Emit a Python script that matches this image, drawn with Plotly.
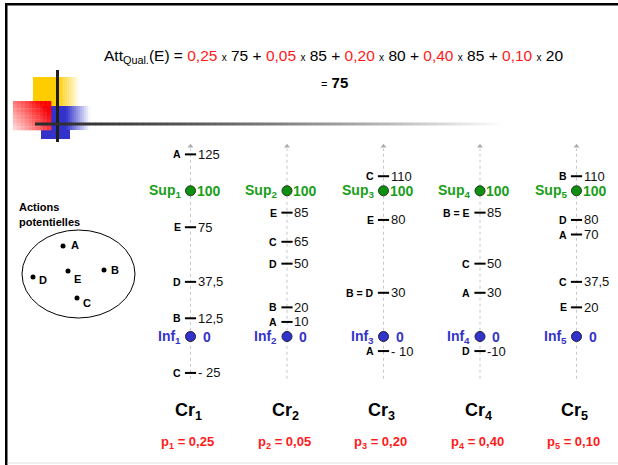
import plotly.graph_objects as go

# ---------------- data ----------------
criteria = ["Cr1", "Cr2", "Cr3", "Cr4", "Cr5"]
crit_index = [1, 2, 3, 4, 5]
weights = [0.25, 0.05, 0.20, 0.40, 0.10]
weight_labels = ["0,25", "0,05", "0,20", "0,40", "0,10"]
actions = ["A", "B", "C", "D", "E"]
score_A = [125, 10, -10, 30, 70]
score_B = [12.5, 20, 30, 85, 110]
score_C = [-25, 65, 110, 50, 37.5]
score_D = [37.5, 50, 30, -10, 80]
score_E = [75, 85, 80, 85, 20]
sup_values = [100, 100, 100, 100, 100]
inf_values = [0, 0, 0, 0, 0]
neg_sep = [" ", "", " ", "", ""]   # "- 25" vs "-10" as written on the slide
focus_action = "E"

scores = {"A": score_A, "B": score_B, "C": score_C, "D": score_D, "E": score_E}

# ---------------- styles ----------------
W, H = 618, 465
FONT = "Liberation Sans, Arial, Helvetica, sans-serif"
GREEN_T = "#1a9e1a"
GREEN_M = "#0f8f0f"
BLUE_T = "#3535c8"
BLUE_M = "#3333cc"
RED = "#ff1a1a"


def fmt(v, col):
    s = ("%g" % abs(v)).replace(".", ",")
    return ("-" + neg_sep[col] + s) if v < 0 else s


def X(px):
    return px / W


def Y(py):
    return 1 - py / H


fig = go.Figure()
shapes = []
ann = []

# axis line per criterion (dotted, with small arrow on top)
for i in crit_index:
    fig.add_trace(go.Scatter(x=[i, i], y=[-29, 129], mode="lines",
                             line=dict(color="#c8c8c8", width=1, dash="dot"),
                             hoverinfo="skip", showlegend=False))
fig.add_trace(go.Scatter(x=crit_index, y=[130.5] * 5, mode="markers",
                         marker=dict(symbol="triangle-up", size=5, color="#aaaaaa"),
                         hoverinfo="skip", showlegend=False))

# ticks + labels for actions
for c, i in enumerate(crit_index):
    groups = {}
    for a in actions:
        groups.setdefault(scores[a][c], []).append(a)
    vals = sorted(groups)
    fig.add_trace(go.Scatter(x=[i] * len(vals), y=vals, mode="markers",
                             marker=dict(symbol="line-ew", size=8,
                                         line=dict(color="black", width=2)),
                             hoverinfo="skip", showlegend=False))
    for v in vals:
        ann.append(dict(x=i, y=v, xref="x", yref="y", text="<b>" + " = ".join(groups[v]) + "</b>",
                        xanchor="right", yanchor="middle", xshift=-8, showarrow=False,
                        font=dict(size=10.5, color="black", family=FONT)))
        ann.append(dict(x=i, y=v, xref="x", yref="y", text=fmt(v, c),
                        xanchor="left", yanchor="middle", xshift=5, showarrow=False,
                        font=dict(size=13, color="#111111", family=FONT)))

# Sup / Inf reference points
fig.add_trace(go.Scatter(x=crit_index, y=sup_values, mode="markers",
                         marker=dict(size=10, color=GREEN_M, line=dict(color="#1b3b1b", width=1)),
                         hoverinfo="skip", showlegend=False))
fig.add_trace(go.Scatter(x=crit_index, y=inf_values, mode="markers",
                         marker=dict(size=10, color=BLUE_M, line=dict(color="#1b1b3b", width=1)),
                         hoverinfo="skip", showlegend=False))
for c, i in enumerate(crit_index):
    ann.append(dict(x=i, y=sup_values[c], xref="x", yref="y",
                    text="<b>Sup<sub>%d</sub></b>" % i, xanchor="right", yanchor="middle",
                    xshift=-8, showarrow=False, font=dict(size=14, color=GREEN_T, family=FONT)))
    ann.append(dict(x=i, y=sup_values[c], xref="x", yref="y",
                    text="<b>%g</b>" % sup_values[c], xanchor="left", yanchor="middle",
                    xshift=4, showarrow=False, font=dict(size=14, color=GREEN_T, family=FONT)))
    ann.append(dict(x=i, y=inf_values[c], xref="x", yref="y",
                    text="<b>Inf<sub>%d</sub></b>" % i, xanchor="right", yanchor="middle",
                    xshift=-8, showarrow=False, font=dict(size=14, color=BLUE_T, family=FONT)))
    ann.append(dict(x=i, y=inf_values[c], xref="x", yref="y",
                    text="<b>%g</b>" % inf_values[c], xanchor="left", yanchor="middle",
                    xshift=10, showarrow=False, font=dict(size=14, color=BLUE_T, family=FONT)))
    # criterion name and weight
    ann.append(dict(x=i, y=Y(411), xref="x", yref="paper",
                    text="<b>Cr<sub>%d</sub></b>" % i, xanchor="center", yanchor="middle",
                    xshift=-2, showarrow=False, font=dict(size=18, color="black", family=FONT)))
    ann.append(dict(x=i, y=Y(442), xref="x", yref="paper",
                    text="<b>p<sub>%d</sub> = %s</b>" % (i, weight_labels[c]), xanchor="center",
                    yanchor="middle", xshift=-3, showarrow=False,
                    font=dict(size=13, color=RED, family=FONT)))

# formula
parts = []
for c in range(len(criteria)):
    parts.append("<span style='color:%s'>%s</span> <span style='font-size:10px'>x</span> %g"
                 % (RED, weight_labels[c], scores[focus_action][c]))
total = sum(w * s for w, s in zip(weights, scores[focus_action]))
ann.append(dict(x=X(333), y=Y(57), xref="paper", yref="paper",
                text="Att<sub>Qual.</sub>(%s) = " % focus_action + " + ".join(parts),
                xanchor="center", yanchor="middle", showarrow=False,
                font=dict(size=15.5, color="black", family=FONT)))
ann.append(dict(x=X(334), y=Y(83), xref="paper", yref="paper",
                text="<span style='font-size:11px'>=</span> <b>%g</b>" % round(total, 2),
                xanchor="center", yanchor="middle", showarrow=False,
                font=dict(size=15, color="black", family=FONT)))

# "Actions potentielles" ellipse
ann.append(dict(x=X(17), y=Y(207), xref="paper", yref="paper", text="<b>Actions</b>",
                xanchor="left", yanchor="middle", showarrow=False,
                font=dict(size=11, color="black", family=FONT)))
ann.append(dict(x=X(17), y=Y(222), xref="paper", yref="paper", text="<b>potentielles</b>",
                xanchor="left", yanchor="middle", showarrow=False,
                font=dict(size=11, color="black", family=FONT)))
shapes.append(dict(type="circle", xref="paper", yref="paper", x0=X(22), x1=X(135),
                   y0=Y(318), y1=Y(230), line=dict(color="black", width=1)))
dots = {"A": (63, 246, 69, 245), "B": (104, 270, 109, 270), "C": (77, 298, 81, 303),
        "D": (33, 277, 37, 280), "E": (68, 271, 72, 279)}
for a in actions:
    dx, dy, lx, ly = dots[a]
    shapes.append(dict(type="circle", xref="paper", yref="paper", x0=X(dx - 2.5), x1=X(dx + 2.5),
                       y0=Y(dy + 2.5), y1=Y(dy - 2.5), fillcolor="black", line=dict(width=0)))
    ann.append(dict(x=X(lx), y=Y(ly), xref="paper", yref="paper", text="<b>%s</b>" % a,
                    xanchor="left", yanchor="middle", showarrow=False,
                    font=dict(size=11, color="black", family=FONT)))


# ---------------- decorative logo ----------------
def blend(c, t):
    r, g, b = c
    return "rgb(%d,%d,%d)" % (round(255 + (r - 255) * t), round(255 + (g - 255) * t),
                              round(255 + (b - 255) * t))


def rect(x0, x1, y0, y1, color):
    shapes.append(dict(type="rect", xref="paper", yref="paper", x0=X(x0), x1=X(x1),
                       y0=Y(y1), y1=Y(y0), fillcolor=color, line=dict(width=0), layer="above"))


# yellow square with fade to the right
rect(33, 58, 77, 106, "rgb(255,204,0)")
n = 12
for k in range(n):
    x0 = 58 + k * 22 / n
    rect(x0, x0 + 22 / n + 0.3, 77, 106, blend((255, 204, 0), 1 - (k + 0.5) / n))
# blue square with fade to the right
rect(41, 66, 106, 139, "rgb(51,51,204)")
for k in range(n):
    x0 = 66 + k * 24 / n
    rect(x0, x0 + 24 / n + 0.3, 106, 130, blend((51, 51, 204), 1 - (k + 0.5) / n))
rect(66, 70, 130, 139, "rgb(51,51,204)")
# red square with diagonal gradient
nx, ny = 10, 8
for ix in range(nx):
    for iy in range(ny):
        fx = (ix + 0.5) / nx
        fy = (iy + 0.5) / ny
        t = 0.12 + 0.88 * min(1, 0.75 * fx + 0.45 * (1 - fy))
        rect(13 + ix * 38 / nx, 13 + (ix + 1) * 38 / nx + 0.3,
             101 + iy * 29 / ny, 101 + (iy + 1) * 29 / ny + 0.3, blend((255, 0, 0), t))
# black vertical bar
rect(56, 59, 70, 142, "rgb(30,30,30)")
# horizontal fading rule
seg = 6
x = 35
while x < 500:
    t = max(0.0, min(1.0, (x - 35) / 465))
    g = int(45 + 210 * t ** 1.4)
    rect(x, x + seg + 0.3, 122.5, 125.5, "rgb(%d,%d,%d)" % (g, g, g))
    x += seg

# slide frame
rect(5, 7.5, 3, 465, "black")
rect(5, 618, 3, 5.5, "black")
rect(7.5, 618, 462.5, 463.5, "rgb(225,225,225)")

# ---------------- axes mapping ----------------
# pixel x = 383.5 + (i - 3) * 96.5 ; pixel y = 336.5 - 1.457 * v
x_range = [3 - 383.5 / 96.5, 3 + (W - 383.5) / 96.5]
y_range = [(336.5 - H) / 1.457, 336.5 / 1.457]

fig.update_layout(
    width=W, height=H,
    margin=dict(l=0, r=0, t=0, b=0),
    paper_bgcolor="white", plot_bgcolor="white",
    font=dict(family=FONT, size=12),
    xaxis=dict(range=x_range, visible=False, fixedrange=True),
    yaxis=dict(range=y_range, visible=False, fixedrange=True),
    shapes=shapes, annotations=ann, showlegend=False,
)

fig.write_html("out.html", config={"displayModeBar": False},
               post_script="document.body.style.margin='0';document.body.style.overflow='hidden';")
